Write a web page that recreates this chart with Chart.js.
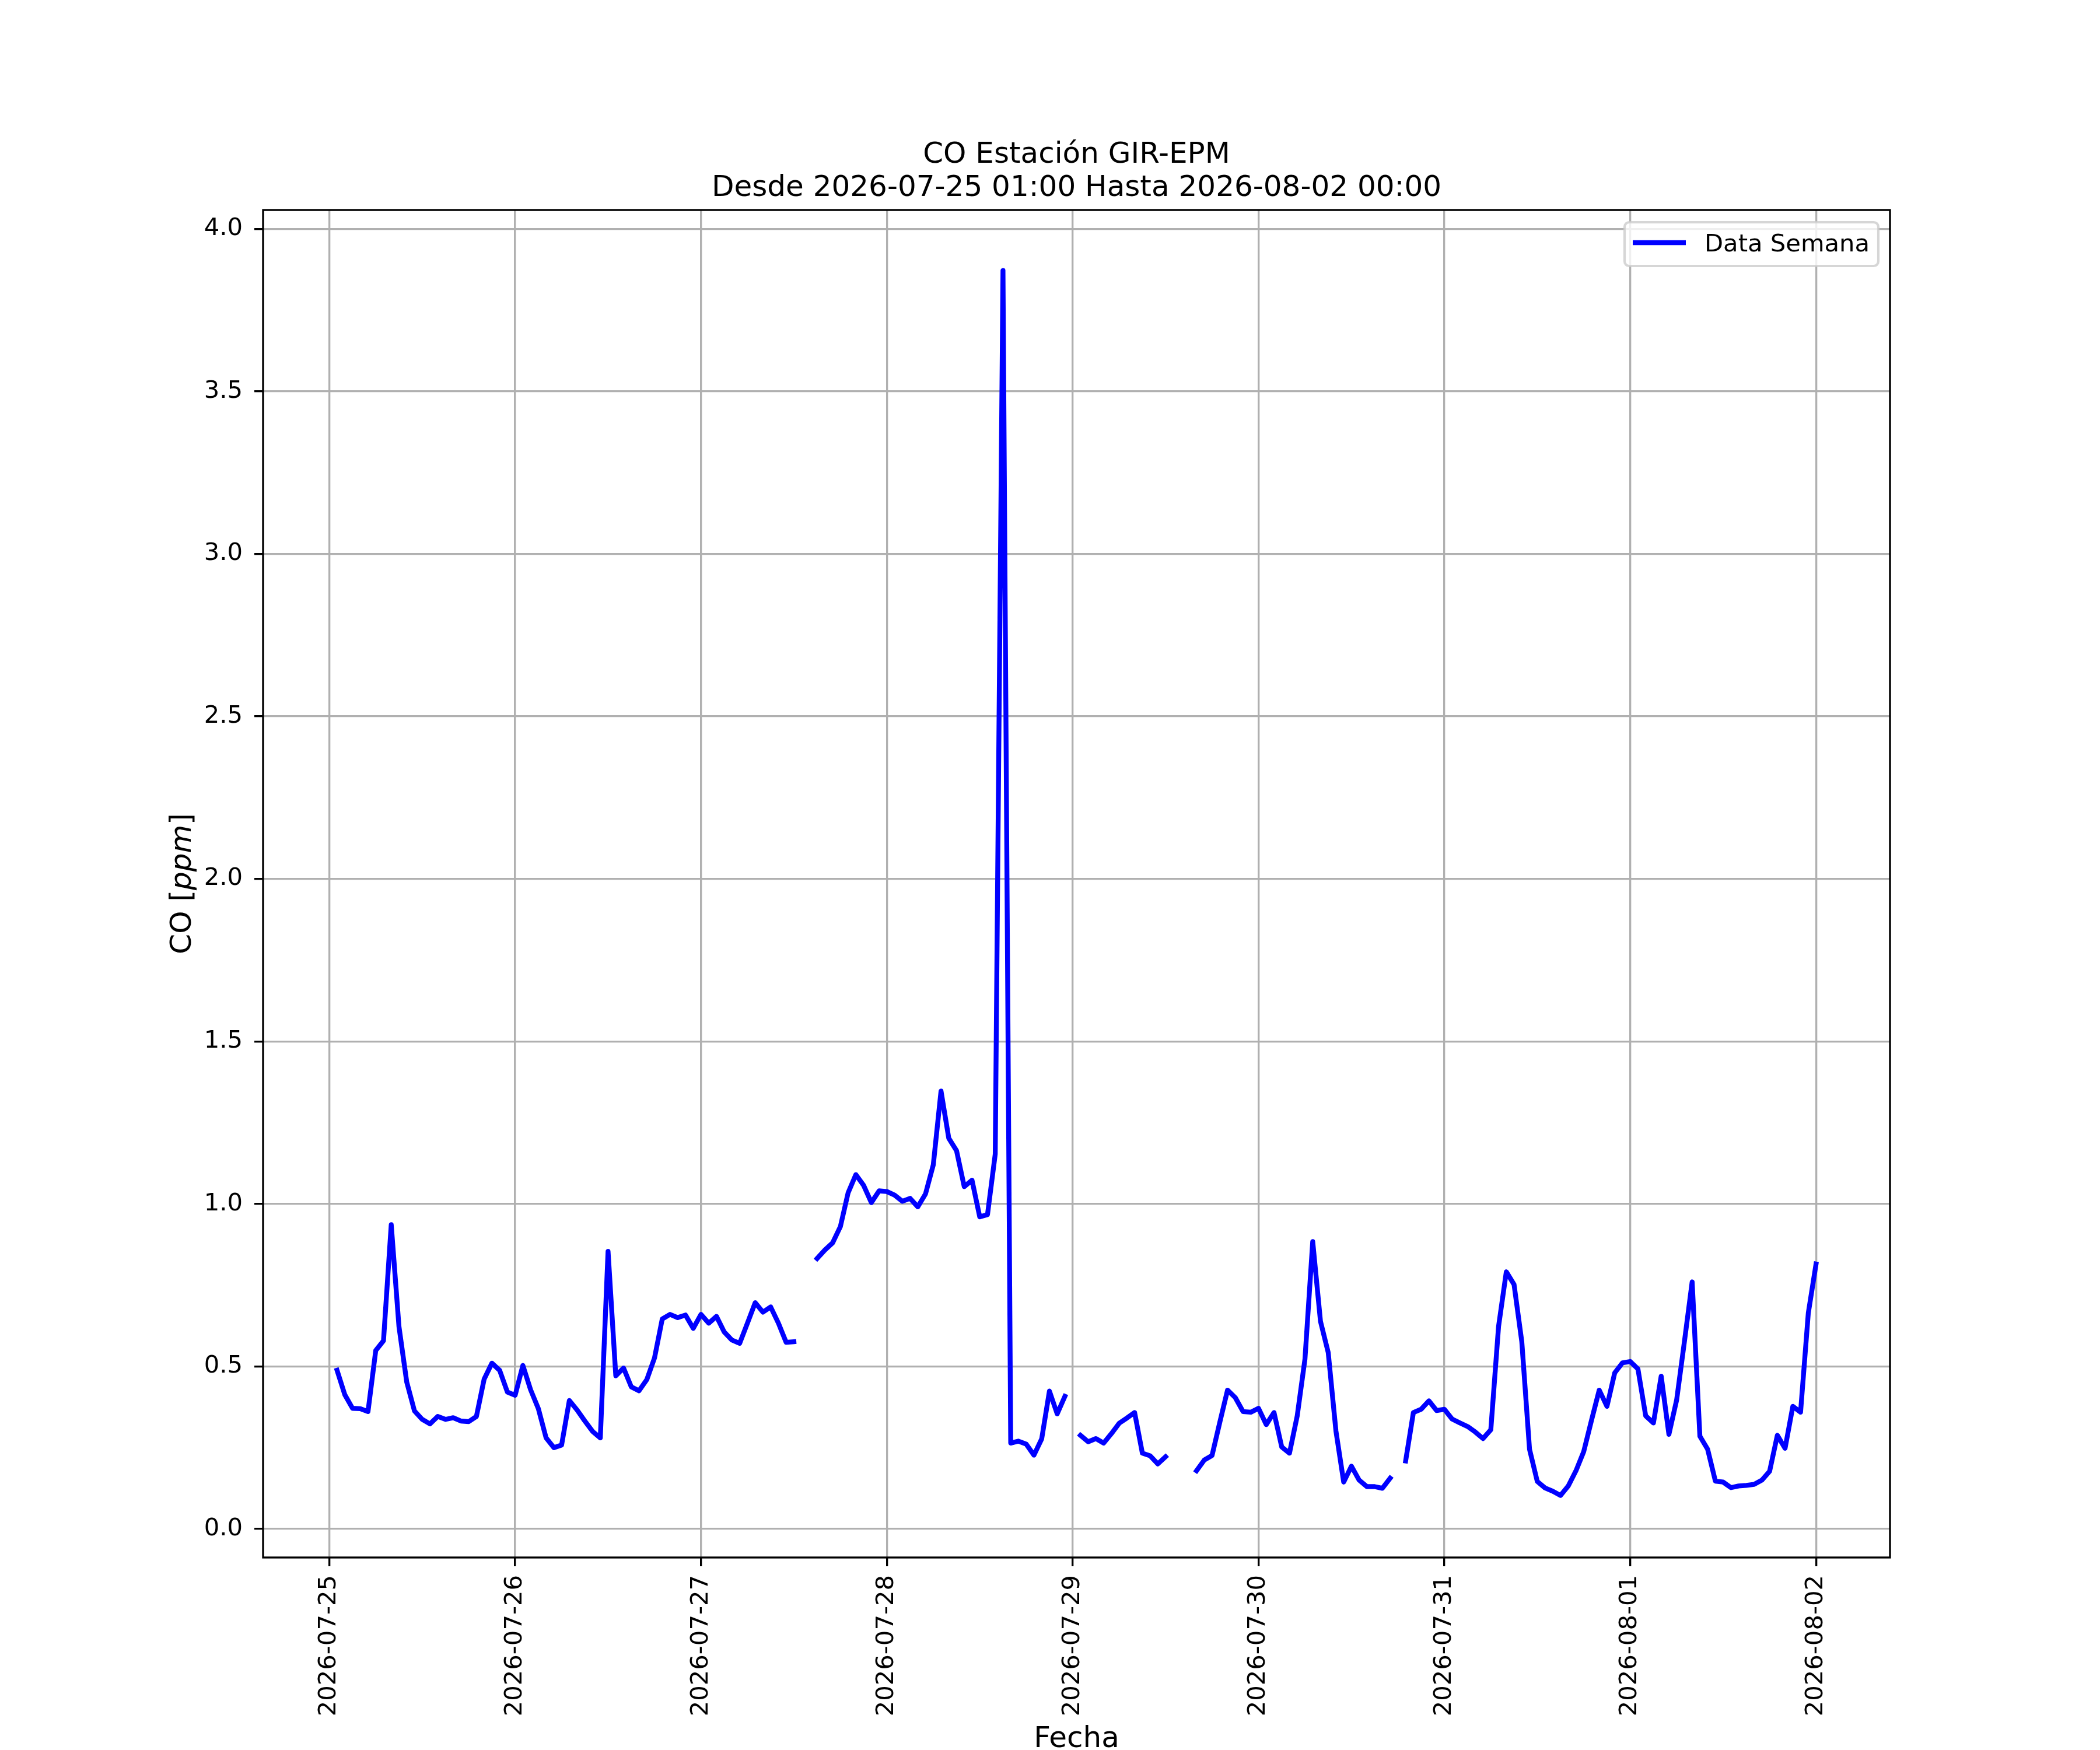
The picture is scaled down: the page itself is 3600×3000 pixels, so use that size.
<!DOCTYPE html>
<html>
<head>
<meta charset="utf-8">
<script src="https://cdn.jsdelivr.net/npm/chart.js@4.4.1/dist/chart.umd.min.js"></script>
<style>
  body { margin: 0; background: #ffffff; }
  canvas { display: block; }
</style>
</head>
<body>
<canvas id="myChart" width="3600" height="3000" style="width:3600px;height:3000px"></canvas>
<script>
// tick labels of the date axis (one per day, at 00:00)
const tickLabels = ['2026-07-25', '2026-07-26', '2026-07-27', '2026-07-28', '2026-07-29',
                    '2026-07-30', '2026-07-31', '2026-08-01', '2026-08-02'];
const yTicks = [0.0, 0.5, 1.0, 1.5, 2.0, 2.5, 3.0, 3.5, 4.0];

// hourly CO [ppm], 01:00 ... 24:00 of each day (null = no data)
const jul25 = [0.488, 0.413, 0.371, 0.370, 0.361, 0.549, 0.579, 0.936, 0.622, 0.452, 0.363, 0.337,
               0.323, 0.346, 0.337, 0.342, 0.332, 0.330, 0.346, 0.461, 0.510, 0.488, 0.421, 0.411];
const jul26 = [0.503, 0.428, 0.370, 0.280, 0.250, 0.258, 0.395, 0.366, 0.332, 0.300, 0.280, 0.854,
               0.471, 0.495, 0.437, 0.425, 0.459, 0.526, 0.646, 0.660, 0.650, 0.658, 0.617, 0.660];
const jul27 = [0.633, 0.654, 0.606, 0.581, 0.571, 0.633, 0.696, 0.667, 0.683, 0.633, 0.574, 0.576,
               null, null, 0.832, 0.858, 0.880, 0.930, 1.034, 1.090, 1.057, 1.004, 1.040, 1.038];
const jul28 = [1.027, 1.008, 1.017, 0.991, 1.031, 1.120, 1.347, 1.202, 1.164, 1.053, 1.073, 0.960,
               0.967, 1.153, 3.872, 0.264, 0.270, 0.261, 0.227, 0.277, 0.424, 0.354, 0.408, null];
const jul29 = [0.288, 0.268, 0.278, 0.264, 0.293, 0.325, 0.341, 0.358, 0.233, 0.225, 0.200, 0.222,
               null, null, null, 0.179, 0.212, 0.226, 0.328, 0.427, 0.404, 0.361, 0.359, 0.371];
const jul30 = [0.321, 0.358, 0.252, 0.233, 0.348, 0.523, 0.884, 0.639, 0.543, 0.301, 0.144, 0.193,
               0.150, 0.130, 0.130, 0.125, 0.156, null, 0.209, 0.358, 0.368, 0.394, 0.364, 0.368];
const jul31 = [0.338, 0.326, 0.315, 0.298, 0.278, 0.305, 0.623, 0.791, 0.752, 0.576, 0.245, 0.146,
               0.126, 0.116, 0.103, 0.132, 0.179, 0.238, 0.334, 0.427, 0.377, 0.480, 0.511, 0.515];
const ago01 = [0.492, 0.348, 0.326, 0.470, 0.291, 0.397, 0.576, 0.760, 0.285, 0.245, 0.147, 0.144,
               0.127, 0.132, 0.134, 0.137, 0.150, 0.177, 0.288, 0.248, 0.377, 0.359, 0.664, 0.815];

const semana = [].concat(jul25, jul26, jul27, jul28, jul29, jul30, jul31, ago01);
// x = hours since 2026-07-25 00:00
const puntos = semana.map((v, i) => ({ x: i + 1, y: v }));

const FONT = "'DejaVu Sans', 'Liberation Sans', sans-serif";
const PT = 300 / 72;

// title, axis labels, spines and legend drawn like matplotlib
const decor = {
    id: 'decor',
    beforeDraw(chart) {
        const c = chart.ctx;
        c.save();
        c.fillStyle = '#ffffff';
        c.fillRect(0, 0, chart.width, chart.height);
        c.restore();
    },
    afterDraw(chart) {
        const c = chart.ctx;
        const a = chart.chartArea;
        const cx = (a.left + a.right) / 2;
        c.save();

        // spines
        c.strokeStyle = '#000000';
        c.lineWidth = 0.8 * PT;
        c.strokeRect(a.left, a.top, a.right - a.left, a.bottom - a.top);

        // title
        c.fillStyle = '#000000';
        c.font = '50px ' + FONT;
        c.textAlign = 'center';
        c.textBaseline = 'alphabetic';
        c.fillText('CO Estación GIR-EPM', cx, 279);
        c.fillText('Desde 2026-07-25 01:00 Hasta 2026-08-02 00:00', cx, 336);

        // x label
        c.fillText('Fecha', cx, 2995);

        // y label with italic ppm
        const reg = '50px ' + FONT;
        const ita = 'italic 50px ' + FONT;
        c.font = reg;
        const w1 = c.measureText('CO [').width;
        const w3 = c.measureText(']').width;
        c.font = ita;
        const w2 = c.measureText('ppm').width;
        const total = w1 + w2 + w3;
        c.translate(327, (a.top + a.bottom) / 2);
        c.rotate(-Math.PI / 2);
        c.textAlign = 'left';
        let x = -total / 2;
        c.font = reg; c.fillText('CO [', x, 0); x += w1;
        c.font = ita; c.fillText('ppm', x, 0); x += w2;
        c.font = reg; c.fillText(']', x, 0);
        c.setTransform(1, 0, 0, 1, 0, 0);

        // legend
        const bx = 2785, by = 381, bw = 435, bh = 75, r = 8;
        c.beginPath();
        c.roundRect(bx, by, bw, bh, r);
        c.fillStyle = 'rgba(255,255,255,0.8)';
        c.fill();
        c.lineWidth = 1.0 * PT;
        c.strokeStyle = 'rgba(204,204,204,0.8)';
        c.stroke();
        c.beginPath();
        c.moveTo(2799, 416);
        c.lineTo(2890, 416);
        c.strokeStyle = '#0000ff';
        c.lineWidth = 2 * PT;
        c.lineCap = 'butt';
        c.stroke();
        c.fillStyle = '#000000';
        c.font = '41.7px ' + FONT;
        c.textAlign = 'left';
        c.textBaseline = 'alphabetic';
        c.fillText('Data Semana', 2922, 431);
        c.restore();
    }
};

const ctx = document.querySelector('#myChart');
const myChart = new Chart(
    ctx,
    {
        type: 'line',
        data: {
            datasets: [
                {
                    label: 'Data Semana',
                    data: puntos,
                    borderColor: '#0000ff',
                    borderWidth: 2 * PT,
                    borderCapStyle: 'square',
                    borderJoinStyle: 'round',
                    pointRadius: 0,
                    pointHoverRadius: 0,
                    tension: 0,
                    spanGaps: false,
                    fill: false
                }
            ]
        },
        options: {
            responsive: false,
            animation: false,
            devicePixelRatio: 1,
            events: [],
            layout: {
                padding: { left: 0, top: 360, right: 360, bottom: 0 }
            },
            plugins: {
                legend: { display: false },
                title: { display: false },
                tooltip: { enabled: false }
            },
            scales: {
                x: {
                    type: 'linear',
                    min: -8.55,
                    max: 201.55,
                    afterBuildTicks: (scale) => {
                        scale.ticks = tickLabels.map((_, i) => ({ value: i * 24 }));
                    },
                    afterFit: (scale) => { scale.height = 330; },
                    ticks: {
                        autoSkip: false,
                        minRotation: 90,
                        maxRotation: 90,
                        padding: 15,
                        color: '#000000',
                        font: { family: FONT, size: 41.7 },
                        callback: (value, index) => tickLabels[index]
                    },
                    grid: {
                        color: '#b0b0b0',
                        lineWidth: 0.8 * PT,
                        drawTicks: true,
                        tickLength: 15,
                        tickColor: '#000000',
                        tickWidth: 0.8 * PT
                    },
                    border: { display: false }
                },
                y: {
                    type: 'linear',
                    min: -0.088,
                    max: 4.058,
                    afterBuildTicks: (scale) => {
                        scale.ticks = yTicks.map(v => ({ value: v }));
                    },
                    afterFit: (scale) => { scale.width = 451; },
                    ticks: {
                        padding: 20,
                        color: '#000000',
                        font: { family: FONT, size: 41.7 },
                        callback: (value) => value.toFixed(1)
                    },
                    grid: {
                        color: '#b0b0b0',
                        lineWidth: 0.8 * PT,
                        drawTicks: true,
                        tickLength: 15,
                        tickColor: '#000000',
                        tickWidth: 0.8 * PT
                    },
                    border: { display: false }
                }
            }
        },
        plugins: [decor]
    }
);
</script>
</body>
</html>
